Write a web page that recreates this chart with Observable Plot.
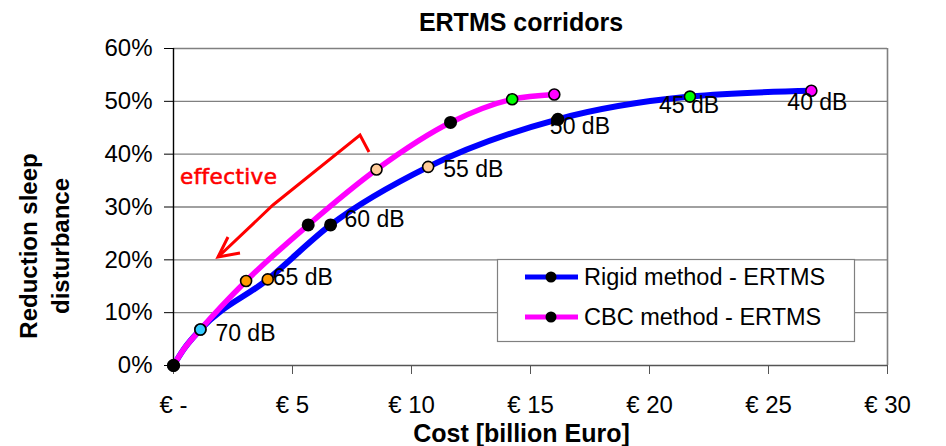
<!DOCTYPE html>
<html>
<head>
<meta charset="utf-8">
<script src="https://cdn.jsdelivr.net/npm/d3@7"></script>
<script src="https://cdn.jsdelivr.net/npm/@observablehq/plot@0.6"></script>
<style>
  html, body { margin: 0; padding: 0; background: #fff; }
  #title { height: 28px; line-height: 44px; width: 946px; box-sizing: border-box; padding-left: 96px; text-align: center;
    font-family: "Liberation Sans", Arial, sans-serif; font-weight: bold; font-size: 25px; color: #000; white-space: nowrap; }
  #chart svg { overflow: visible; display: block; }
</style>
</head>
<body>
<div id="title">ERTMS corridors</div>
<div id="chart"></div>
<script>
// ---- data ----
const seriesNames = ["Rigid method - ERTMS", "CBC method - ERTMS"];
const levelLabels = ["", "", "70 dB", "65 dB", "60 dB", "55 dB", "50 dB", "45 dB", "40 dB"];
const rigidCost = [0, 0.42, 1.13, 3.96, 6.6, 10.7, 16.15, 21.7, 26.8];
const rigidReduction = [0, 0.030, 0.068, 0.163, 0.266, 0.376, 0.466, 0.509, 0.520];
const cbcCost = [0, 0.42, 1.13, 3.05, 5.66, 8.53, 11.64, 14.23, 16.0];
const cbcReduction = [0, 0.030, 0.068, 0.160, 0.266, 0.371, 0.460, 0.504, 0.513];
const markerColors = ["black", null, "#33CCFF", "#FF9900", "black", "#FFCC99", "black", "#00FF00", "#FF00FF"];
const xTicks = [0, 5, 10, 15, 20, 25, 30];
const xTickLabels = ["€ -", "€ 5", "€ 10", "€ 15", "€ 20", "€ 25", "€ 30"];
const yTicks = [0, 0.1, 0.2, 0.3, 0.4, 0.5, 0.6];
const yTickLabels = ["0%", "10%", "20%", "30%", "40%", "50%", "60%"];

// label nudges (pixels) for the dB labels, by index
const labelNudge = {2: [15, 4], 3: [5, -2], 4: [14, -5], 5: [15, 3], 6: [-8, 7], 7: [-31, 9], 8: [-24, 12]};

const rigid = rigidCost.map((c, i) => ({x: c, y: rigidReduction[i], color: markerColors[i], label: levelLabels[i], i}));
const cbc = cbcCost.map((c, i) => ({x: c, y: cbcReduction[i], color: markerColors[i], i}));

const isBlack = d => d.color === "black";
const isColored = d => d.color && d.color !== "black";

const labelMarks = rigid.filter(d => d.label).map(d =>
  Plot.text([d], {x: "x", y: "y", text: "label", textAnchor: "start", lineAnchor: "middle",
    dx: labelNudge[d.i][0], dy: labelNudge[d.i][1], fontSize: 23, fill: "black"})
);

const plot = Plot.plot({
  width: 946,
  height: 418,
  marginTop: 20,
  marginBottom: 81,
  marginLeft: 173,
  marginRight: 59,
  style: {fontFamily: "'Liberation Sans', Arial, sans-serif", background: "white", color: "black", overflow: "visible"},
  color: {type: "identity"},
  x: {domain: [0, 30]},
  y: {domain: [0, 0.6]},
  marks: [
    Plot.ruleY(yTicks.slice(1), {stroke: "#808080", strokeWidth: 1.4}),
    Plot.ruleX([30], {stroke: "#808080", strokeWidth: 1.6}),
    Plot.axisY({ticks: yTicks, tickFormat: d => yTickLabels[yTicks.indexOf(d)], tickSize: 9, tickPadding: 12, fontSize: 24, label: null}),
    Plot.axisX({ticks: xTicks, tickFormat: d => xTickLabels[xTicks.indexOf(d)], tickSize: 9, tickPadding: 21, fontSize: 24, label: null, stroke: "#555"}),
    Plot.ruleX([0], {stroke: "black", strokeWidth: 1.4}),
    Plot.ruleY([0], {stroke: "#555", strokeWidth: 1.4}),
    Plot.text(["Reduction sleep\ndisturbance"], {frameAnchor: "left", rotate: -90, dx: -131, dy: 39,
      fontSize: 24, fontWeight: "bold", lineHeight: 1.35, textAnchor: "middle", lineAnchor: "middle", fill: "black"}),
    Plot.text(["Cost [billion Euro]"], {frameAnchor: "bottom", dx: -9, dy: 68, fontSize: 25, fontWeight: "bold",
      textAnchor: "middle", lineAnchor: "middle", fill: "black"}),
    Plot.line(rigid, {x: "x", y: "y", stroke: "#0000FF", strokeWidth: 6, curve: "monotone-x"}),
    Plot.line(cbc, {x: "x", y: "y", stroke: "#FF00FF", strokeWidth: 5.5, curve: "monotone-x"}),
    Plot.dot(cbc.filter(isBlack), {x: "x", y: "y", r: 6.5, fill: "black"}),
    Plot.dot(cbc.filter(isColored), {x: "x", y: "y", r: 5.5, fill: "color", stroke: "black", strokeWidth: 1.6}),
    Plot.dot(rigid.filter(isBlack), {x: "x", y: "y", r: 6.5, fill: "black"}),
    Plot.dot(rigid.filter(isColored), {x: "x", y: "y", r: 5.5, fill: "color", stroke: "black", strokeWidth: 1.6}),
    ...labelMarks
  ]
});
document.getElementById("chart").appendChild(plot);

// page y -> svg y offset (title div height)
const off = 28;
const svg = d3.select(plot);

// ---- annotation: "effective" arrow ----
const ann = svg.append("g").attr("transform", `translate(0,${-off})`);
ann.append("polyline")
  .attr("points", "369,152 360,135 273,205 218,257")
  .attr("fill", "none").attr("stroke", "#FF0000").attr("stroke-width", 3).attr("stroke-linejoin", "miter");
ann.append("polyline")
  .attr("points", "240,253 218,257 228,237")
  .attr("fill", "none").attr("stroke", "#FF0000").attr("stroke-width", 3);
ann.append("text")
  .attr("x", 180).attr("y", 176).attr("dy", "0.35em").attr("text-anchor", "start")
  .attr("font-family", "'DejaVu Sans', Verdana, sans-serif").attr("font-size", 21.5)
  .attr("letter-spacing", 0.4)
  .attr("stroke", "#FF0000").attr("stroke-width", 0.6)
  .attr("fill", "#FF0000").text("effective");

// ---- legend ----
const lg = svg.append("g").attr("transform", `translate(0,${-off})`);
lg.append("rect").attr("x", 497.5).attr("y", 259.5).attr("width", 357).attr("height", 82)
  .attr("fill", "white").attr("stroke", "#808080").attr("stroke-width", 1.2);
const legendColors = ["#0000FF", "#FF00FF"];
seriesNames.forEach((name, k) => {
  const yy = 277 + k * 40;
  lg.append("line").attr("x1", 525).attr("x2", 578).attr("y1", yy).attr("y2", yy)
    .attr("stroke", legendColors[k]).attr("stroke-width", 5);
  lg.append("circle").attr("cx", 551).attr("cy", yy).attr("r", 5.5).attr("fill", "black");
  lg.append("text").attr("x", 584).attr("y", yy).attr("dy", "0.35em").attr("text-anchor", "start")
    .attr("font-family", "'Liberation Sans', Arial, sans-serif").attr("font-size", 23.5)
    .attr("fill", "black").text(name);
});
</script>
</body>
</html>
